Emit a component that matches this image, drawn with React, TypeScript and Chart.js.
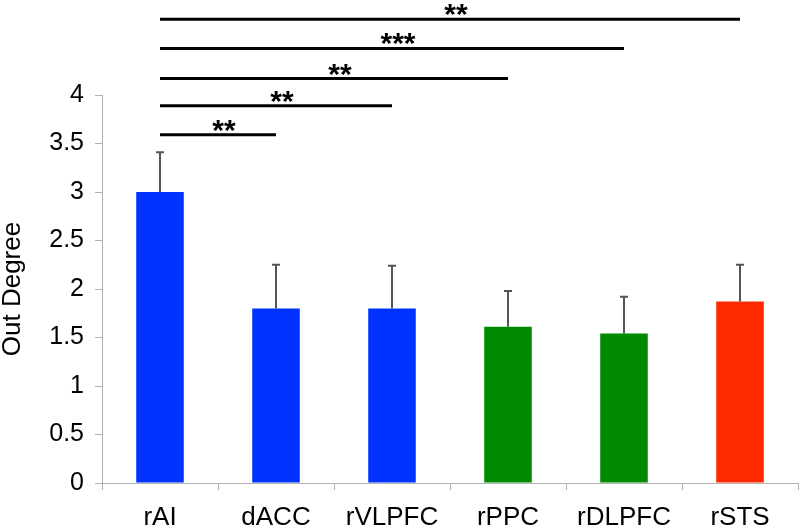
import React, { useEffect, useRef } from "react";
import { Chart, registerables } from "chart.js";

Chart.register(...registerables);

const categories = ["rAI", "dACC", "rVLPFC", "rPPC", "rDLPFC", "rSTS"];
const outDegree = [3.0, 1.8, 1.8, 1.61, 1.54, 1.87];
const errors = [0.41, 0.45, 0.44, 0.37, 0.38, 0.38];
const barColors = ["#0033ff", "#0033ff", "#0033ff", "#008a00", "#008a00", "#ff2a00"];
// significance comparisons: from rAI to target category
const sigTargets = [5, 4, 3, 2, 1];
const sigLevels = [4.78, 4.48, 4.17, 3.89, 3.59];
const sigLabels = ["**", "***", "**", "**", "**"];
const yTicksMax = 4;

const FONT = "'Liberation Sans', Arial, sans-serif";

const errorBarPlugin = {
  id: "errorBars",
  afterDatasetsDraw(chart: any) {
    const ctx = chart.ctx;
    const meta = chart.getDatasetMeta(0);
    const y = chart.scales.y;
    ctx.save();
    ctx.strokeStyle = "#555555";
    ctx.lineWidth = 2;
    meta.data.forEach((bar: any, i: number) => {
      const x = bar.x;
      const y0 = y.getPixelForValue(outDegree[i]);
      const y1 = y.getPixelForValue(outDegree[i] + errors[i]);
      ctx.beginPath();
      ctx.moveTo(x, y0);
      ctx.lineTo(x, y1);
      ctx.moveTo(x - 4, y1);
      ctx.lineTo(x + 4, y1);
      ctx.stroke();
    });
    ctx.restore();
  },
};

const sigPlugin = {
  id: "sigLines",
  afterDraw(chart: any) {
    const ctx = chart.ctx;
    const xs = chart.scales.x;
    const ys = chart.scales.y;
    ctx.save();
    ctx.strokeStyle = "#000";
    ctx.lineWidth = 3;
    ctx.fillStyle = "#000";
    ctx.font = `bold 30px ${FONT}`;
    ctx.textAlign = "center";
    ctx.textBaseline = "alphabetic";
    sigTargets.forEach((t, i) => {
      const x0 = xs.getPixelForValue(0);
      const x1 = xs.getPixelForValue(t);
      const yy = ys.getPixelForValue(sigLevels[i]);
      ctx.beginPath();
      ctx.moveTo(x0, yy);
      ctx.lineTo(x1, yy);
      ctx.stroke();
      ctx.fillText(sigLabels[i], (x0 + x1) / 2 + 6, yy + 5);
    });
    ctx.restore();
  },
};

export default function App() {
  const ref = useRef<HTMLCanvasElement | null>(null);
  useEffect(() => {
    if (!ref.current) return;
    const chart = new Chart(ref.current, {
      type: "bar",
      data: {
        labels: categories,
        datasets: [
          {
            data: outDegree,
            backgroundColor: barColors,
            barPercentage: 0.41,
            categoryPercentage: 1,
          },
        ],
      },
      options: {
        animation: false,
        responsive: false,
        maintainAspectRatio: false,
        layout: { padding: { top: 95, right: 2, left: 0, bottom: 0 } },
        plugins: { legend: { display: false }, tooltip: { enabled: false } },
        scales: {
          x: {
            grid: {
              drawOnChartArea: false,
              drawTicks: true,
              tickLength: 7,
              color: "#b0b0b0",
              offset: true,
            },
            border: { display: true, color: "#b0b0b0", width: 1 },
            ticks: { color: "#000", font: { family: FONT, size: 26 }, padding: 12 },
            afterFit(scale: any) {
              scale.height = 45;
            },
          },
          y: {
            min: 0,
            max: yTicksMax,
            ticks: {
              stepSize: 0.5,
              color: "#000",
              font: { family: FONT, size: 25 },
              padding: 11,
              callback: (v: any) => String(Number(v)),
            },
            grid: { drawOnChartArea: false, drawTicks: true, tickLength: 7, color: "#b0b0b0" },
            border: { display: true, color: "#b0b0b0", width: 1 },
            title: {
              display: true,
              text: "Out Degree",
              color: "#000",
              font: { family: FONT, size: 26, lineHeight: 1.0 },
              padding: { top: 0, bottom: 0 },
            },
            afterFit(scale: any) {
              scale.width = 102;
            },
          },
        },
      },
      plugins: [errorBarPlugin, sigPlugin],
    });
    return () => chart.destroy();
  }, []);
  return (
    <div style={{ position: "fixed", left: 0, top: 0, width: 800, height: 528, background: "#fff" }}>
      <canvas ref={ref} width={800} height={528} style={{ width: 800, height: 528 }} />
    </div>
  );
}
